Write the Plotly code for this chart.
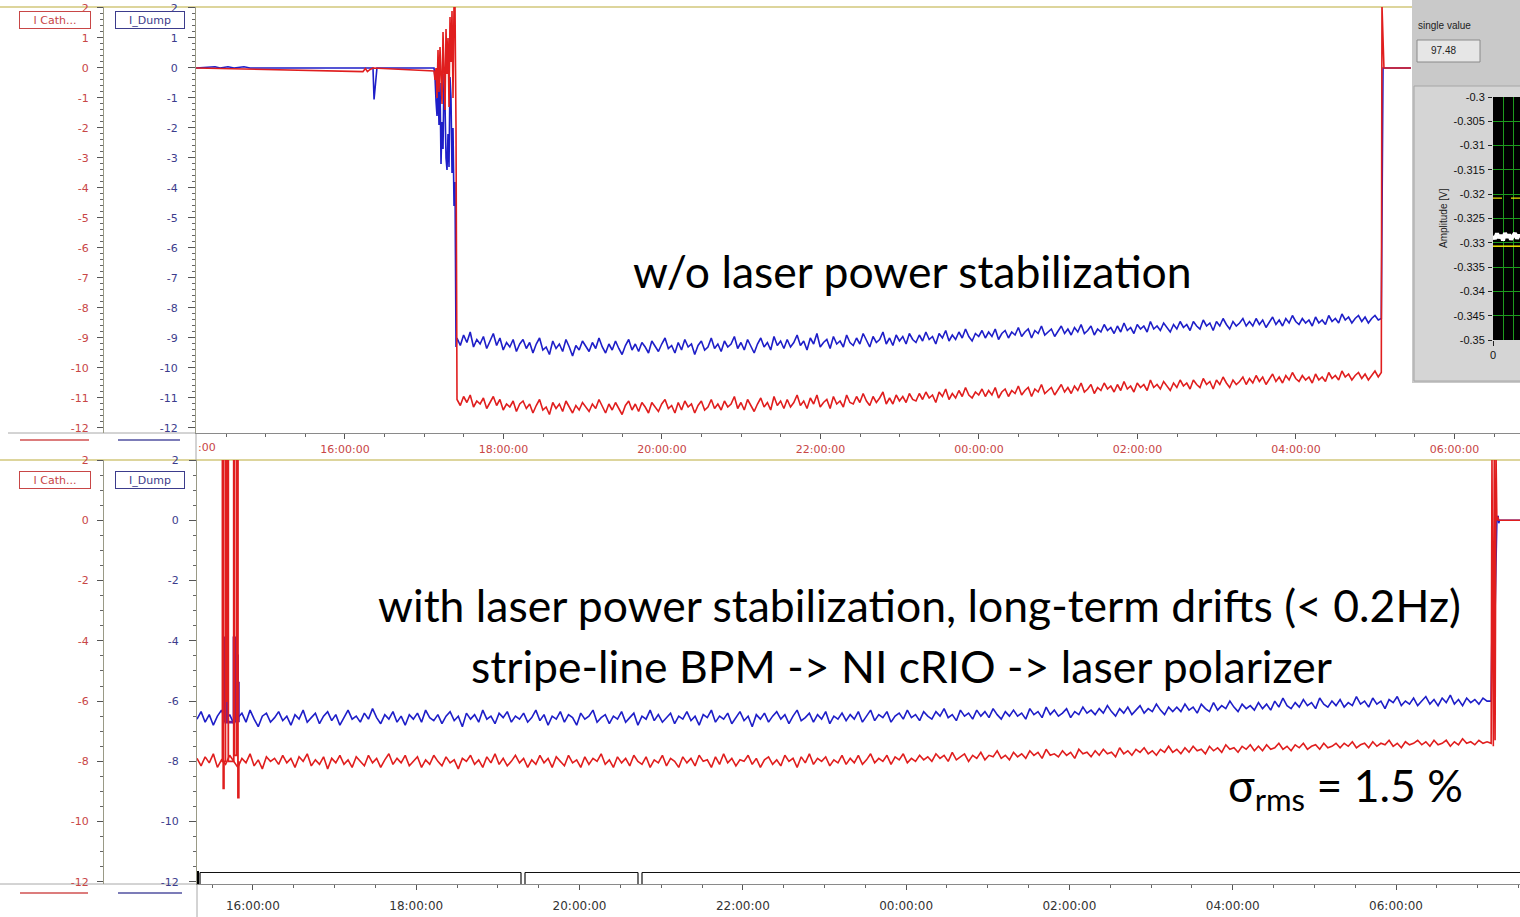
import plotly.graph_objects as go
import pandas as pd

W, H = 1520, 917
BASE = pd.Timestamp("2012-05-21 00:00:00")

# ---------------- DATA (times in minutes after midnight of day 1) ----------------
# Top panel: without laser power stabilization
top_pre_blue_t = [847.2, 861.6, 865.4, 871.4, 876.0, 883.5, 888.1, 981.2, 982.0, 983.5, 984.2]
top_pre_blue_v = [0.0, 0.04, 0.0, 0.04, 0.0, 0.04, 0.0, 0.0, -1.05, -0.2, 0.0]
top_pre_red_t = [847.2, 973.6, 975.5, 977.0, 979.0, 981.2]
top_pre_red_v = [0.0, -0.12, -0.02, -0.12, -0.05, 0.0]

top_chaos_t0 = 1027.4      # start of the unstable start-up phase
top_chaos_step = 0.757     # sampling step (minutes)
top_chaos_blue = [0.0, -0.3, -1.1, -1.6, -0.6, -1.9, -0.5, -3.2, -1.8, -2.7, -0.2, -1.2,
                  -3.0, -3.4, -2.2, -3.3, -0.3, -1.0, -3.5, -2.0, -4.6, -3.8, -9.3]
top_chaos_red = [-0.1, -0.4, 0.0, -1.0, 0.6, -0.8, 0.7, -0.3, -1.2, 1.2, -0.5, -1.4,
                 1.3, -0.2, 1.0, -1.3, 1.7, 0.2, 1.9, -1.0, 2.1, 2.1, -2.0]

top_noise_t0 = 1044.8
top_noise_step = 2.5
top_blue = [
    -9.0, -9.25, -8.9, -9.15, -8.8, -9.3, -9.05, -9.2, -8.95, -9.35, -9.1, -8.85, -9.25, -9.0, -9.4, -9.15, -9.3, -9.05, -9.45, -9.2,
    -9.05, -9.35, -9.15, -9.5, -9.2, -9.0, -9.4, -9.3, -9.55, -9.1, -9.35, -9.2, -9.45, -9.05, -9.3, -9.6, -9.25, -9.4, -9.1, -9.3,
    -9.45, -9.15, -9.35, -9.0, -9.3, -9.5, -9.2, -9.4, -9.1, -9.35, -9.55, -9.25, -9.05, -9.4, -9.2, -9.45, -9.15, -9.3, -9.5, -9.1,
    -9.3, -9.45, -9.2, -9.0, -9.35, -9.25, -9.5, -9.15, -9.4, -9.05, -9.3, -9.2, -9.55, -9.25, -9.1, -9.4, -9.3, -9.0, -9.35, -9.2,
    -9.45, -9.1, -9.3, -9.2, -8.95, -9.35, -9.15, -9.4, -9.05, -9.25, -9.5, -9.2, -9.0, -9.3, -9.15, -9.4, -8.95, -9.25, -9.1, -9.35,
    -9.05, -9.3, -9.15, -8.9, -9.25, -9.1, -9.4, -9.0, -9.2, -8.85, -9.3, -9.15, -9.05, -9.35, -8.95, -9.2, -9.1, -9.3, -8.9, -9.15,
    -9.25, -9.0, -9.2, -8.85, -9.1, -9.3, -8.95, -9.15, -9.05, -8.8, -9.2, -9.0, -9.25, -8.9, -9.1, -8.95, -9.2, -8.85, -9.05, -9.15,
    -8.9, -9.1, -8.8, -9.05, -8.95, -9.2, -8.85, -9.0, -8.75, -9.1, -8.9, -9.05, -8.8, -9.0, -8.7, -8.95, -9.1, -8.85, -8.95, -8.75,
    -9.0, -8.8, -8.95, -8.7, -9.05, -8.85, -8.75, -9.0, -8.8, -8.9, -8.65, -8.95, -8.8, -8.7, -9.0, -8.75, -8.85, -8.6, -8.9, -8.8,
    -8.7, -8.95, -8.75, -8.6, -8.85, -8.7, -8.9, -8.65, -8.8, -8.55, -8.85, -8.75, -8.6, -8.9, -8.7, -8.8, -8.55, -8.75, -8.65, -8.85,
    -8.6, -8.8, -8.5, -8.75, -8.65, -8.85, -8.55, -8.7, -8.6, -8.8, -8.45, -8.7, -8.6, -8.75, -8.5, -8.65, -8.8, -8.55, -8.7, -8.45,
    -8.65, -8.55, -8.75, -8.45, -8.6, -8.7, -8.4, -8.6, -8.5, -8.75, -8.45, -8.6, -8.35, -8.55, -8.7, -8.45, -8.6, -8.5, -8.35, -8.6,
    -8.45, -8.6, -8.35, -8.55, -8.4, -8.65, -8.45, -8.3, -8.55, -8.4, -8.6, -8.35, -8.5, -8.25, -8.45, -8.55, -8.35, -8.5, -8.4, -8.6,
    -8.3, -8.5, -8.4, -8.55, -8.25, -8.45, -8.35, -8.5, -8.2, -8.4, -8.3, -8.5, -8.35, -8.25, -8.45, -8.3, -8.5, -8.35, -8.25, -8.4]
top_red = [
    -11.05, -11.25, -10.95, -11.15, -10.9, -11.3, -11.1, -11.2, -11.0, -11.35, -11.15, -10.95, -11.25, -11.05, -11.4, -11.2, -11.3, -11.1, -11.45, -11.2,
    -11.1, -11.35, -11.2, -11.5, -11.25, -11.05, -11.4, -11.3, -11.55, -11.15, -11.35, -11.2, -11.45, -11.1, -11.3, -11.5, -11.25, -11.4, -11.15, -11.3,
    -11.45, -11.2, -11.35, -11.05, -11.3, -11.5, -11.2, -11.4, -11.15, -11.35, -11.55, -11.25, -11.1, -11.4, -11.2, -11.45, -11.15, -11.3, -11.5, -11.15,
    -11.3, -11.45, -11.2, -11.05, -11.35, -11.25, -11.5, -11.15, -11.4, -11.1, -11.3, -11.2, -11.5, -11.25, -11.1, -11.4, -11.3, -11.05, -11.35, -11.2,
    -11.4, -11.1, -11.3, -11.2, -10.95, -11.35, -11.15, -11.4, -11.05, -11.25, -11.45, -11.2, -11.0, -11.3, -11.15, -11.4, -10.95, -11.25, -11.1, -11.35,
    -11.05, -11.3, -11.15, -10.9, -11.25, -11.1, -11.35, -11.0, -11.2, -10.9, -11.3, -11.15, -11.05, -11.35, -10.95, -11.2, -11.1, -11.3, -10.9, -11.15,
    -11.2, -10.95, -11.15, -10.85, -11.1, -11.25, -10.95, -11.15, -11.0, -10.8, -11.2, -11.0, -11.2, -10.9, -11.1, -10.95, -11.15, -10.85, -11.05, -11.1,
    -10.85, -11.05, -10.8, -11.0, -10.9, -11.15, -10.8, -10.95, -10.7, -11.05, -10.85, -11.0, -10.75, -10.95, -10.65, -10.9, -11.0, -10.8, -10.9, -10.7,
    -10.95, -10.75, -10.9, -10.65, -11.0, -10.8, -10.7, -10.95, -10.75, -10.85, -10.6, -10.9, -10.75, -10.65, -10.95, -10.7, -10.8, -10.55, -10.85, -10.75,
    -10.65, -10.9, -10.7, -10.55, -10.8, -10.65, -10.85, -10.6, -10.75, -10.5, -10.8, -10.7, -10.55, -10.85, -10.65, -10.75, -10.5, -10.7, -10.6, -10.8,
    -10.55, -10.75, -10.45, -10.7, -10.6, -10.8, -10.5, -10.65, -10.55, -10.75, -10.4, -10.65, -10.55, -10.7, -10.45, -10.6, -10.75, -10.5, -10.65, -10.4,
    -10.6, -10.5, -10.7, -10.4, -10.55, -10.65, -10.35, -10.55, -10.45, -10.7, -10.4, -10.55, -10.3, -10.5, -10.65, -10.4, -10.55, -10.45, -10.3, -10.55,
    -10.35, -10.5, -10.25, -10.45, -10.3, -10.55, -10.35, -10.2, -10.45, -10.3, -10.5, -10.25, -10.4, -10.15, -10.35, -10.45, -10.25, -10.4, -10.3, -10.5,
    -10.2, -10.4, -10.3, -10.45, -10.15, -10.35, -10.25, -10.4, -10.1, -10.3, -10.2, -10.4, -10.25, -10.15, -10.35, -10.2, -10.4, -10.25, -10.1, -10.3]

top_end_blue_t = [1744.6, 1745.1, 1745.9, 1767.0]
top_end_blue_v = [-8.35, -4.2, 0.0, 0.0]
top_end_red_t = [1744.6, 1745.1, 1745.9, 1746.6, 1767.0]
top_end_red_v = [-10.15, 2.1, 1.0, 0.0, 0.0]

# Bottom panel: with laser power stabilization
bot_noise_t0 = 918.9
bot_noise_step = 3.0
bot_blue = [
    -6.6, -6.35, -6.7, -6.45, -6.8, -6.5, -6.3, -6.65, -6.45, -6.75, -6.55, -6.4, -6.7, -6.3, -6.6, -6.85, -6.5, -6.4, -6.7, -6.55,
    -6.35, -6.65, -6.5, -6.8, -6.45, -6.6, -6.3, -6.7, -6.55, -6.4, -6.75, -6.5, -6.35, -6.65, -6.45, -6.8, -6.55, -6.3, -6.6, -6.5,
    -6.7, -6.4, -6.6, -6.25, -6.55, -6.75, -6.45, -6.6, -6.35, -6.7, -6.5, -6.8, -6.45, -6.6, -6.4, -6.7, -6.3, -6.55, -6.65, -6.45,
    -6.75, -6.5, -6.35, -6.65, -6.5, -6.85, -6.4, -6.6, -6.45, -6.7, -6.3, -6.6, -6.5, -6.75, -6.4, -6.55, -6.35, -6.7, -6.5, -6.6,
    -6.4, -6.7, -6.55, -6.3, -6.65, -6.45, -6.8, -6.5, -6.6, -6.35, -6.7, -6.45, -6.55, -6.8, -6.4, -6.6, -6.5, -6.3, -6.7, -6.55,
    -6.45, -6.75, -6.5, -6.6, -6.35, -6.7, -6.55, -6.4, -6.8, -6.5, -6.6, -6.3, -6.65, -6.45, -6.7, -6.55, -6.4, -6.75, -6.5, -6.6,
    -6.35, -6.65, -6.5, -6.8, -6.45, -6.55, -6.3, -6.7, -6.5, -6.6, -6.4, -6.75, -6.55, -6.35, -6.65, -6.5, -6.85, -6.45, -6.6, -6.4,
    -6.7, -6.5, -6.35, -6.6, -6.45, -6.75, -6.5, -6.3, -6.65, -6.55, -6.4, -6.7, -6.45, -6.6, -6.35, -6.75, -6.5, -6.6, -6.4, -6.65,
    -6.45, -6.6, -6.35, -6.7, -6.5, -6.3, -6.65, -6.45, -6.55, -6.35, -6.7, -6.5, -6.4, -6.6, -6.3, -6.55, -6.45, -6.65, -6.35, -6.5,
    -6.6, -6.35, -6.5, -6.25, -6.55, -6.45, -6.65, -6.3, -6.5, -6.4, -6.6, -6.3, -6.5, -6.35, -6.55, -6.25, -6.45, -6.6, -6.35, -6.5,
    -6.3, -6.5, -6.4, -6.6, -6.25, -6.45, -6.35, -6.55, -6.2, -6.45, -6.3, -6.5, -6.4, -6.25, -6.55, -6.35, -6.45, -6.2, -6.4, -6.3,
    -6.45, -6.25, -6.4, -6.15, -6.35, -6.5, -6.25, -6.4, -6.2, -6.45, -6.3, -6.15, -6.4, -6.25, -6.35, -6.1, -6.3, -6.45, -6.2, -6.35,
    -6.2, -6.35, -6.1, -6.3, -6.2, -6.4, -6.1, -6.25, -6.35, -6.05, -6.3, -6.15, -6.25, -6.0, -6.2, -6.35, -6.1, -6.25, -6.15, -6.3,
    -6.05, -6.25, -6.1, -6.3, -6.0, -6.2, -5.9, -6.15, -6.25, -6.05, -6.2, -5.95, -6.15, -6.05, -6.25, -5.9, -6.1, -6.2, -6.0, -6.15,
    -5.95, -6.2, -6.05, -6.15, -5.85, -6.1, -6.0, -6.2, -5.9, -6.1, -6.0, -6.25, -5.95, -6.05, -5.85, -6.15, -6.0, -6.1, -5.9, -6.15,
    -6.0, -5.85, -6.1, -5.95, -6.15, -5.9, -6.05, -5.8, -6.1, -5.95, -6.15, -5.9, -6.05, -5.95, -6.1, -5.9, -6.0]
bot_red = [
    -7.9, -8.15, -7.85, -8.05, -7.75, -8.2, -7.95, -8.1, -7.8, -8.0, -8.2, -7.9, -8.05, -7.75, -8.15, -7.95, -8.25, -7.85, -8.0, -7.9,
    -8.1, -7.8, -8.05, -7.9, -8.2, -7.85, -8.0, -7.75, -8.15, -7.95, -8.1, -7.85, -8.25, -7.9, -8.05, -7.8, -8.1, -7.95, -8.2, -7.85,
    -8.0, -8.15, -7.8, -8.05, -7.9, -8.2, -7.95, -7.75, -8.1, -7.9, -8.05, -7.8, -8.15, -8.0, -7.85, -8.2, -7.95, -8.1, -7.8, -8.0,
    -8.15, -7.85, -8.05, -7.95, -8.25, -7.9, -8.0, -7.8, -8.1, -7.95, -8.2, -7.85, -8.05, -7.75, -8.1, -7.9, -8.15, -8.0, -7.8, -8.05,
    -7.9, -8.2, -7.95, -8.1, -7.8, -8.05, -7.9, -8.2, -7.85, -8.0, -8.15, -7.8, -8.05, -7.95, -8.2, -7.85, -8.1, -7.9, -8.0, -7.75,
    -8.1, -7.95, -8.2, -7.85, -8.05, -7.9, -8.15, -7.8, -8.0, -8.1, -7.85, -8.2, -7.95, -8.05, -7.8, -8.15, -7.9, -8.0, -8.2, -7.85,
    -8.05, -7.9, -8.15, -7.8, -8.0, -7.95, -8.2, -7.85, -8.1, -7.75, -8.05, -7.9, -8.15, -7.95, -8.0, -7.8, -8.1, -7.9, -8.2, -7.95,
    -7.85, -8.1, -7.95, -8.15, -7.8, -8.0, -7.9, -8.2, -7.85, -8.05, -7.75, -8.1, -7.9, -8.0, -7.85, -8.15, -7.95, -8.05, -7.8, -8.1,
    -7.9, -8.05, -7.8, -8.1, -7.95, -7.75, -8.05, -7.9, -8.0, -7.8, -8.1, -7.85, -7.95, -7.75, -8.05, -7.9, -8.0, -7.8, -7.95, -7.85,
    -8.0, -7.75, -7.9, -7.8, -8.0, -7.7, -7.95, -7.85, -7.75, -8.0, -7.8, -7.9, -7.7, -7.95, -7.8, -7.85, -7.65, -7.9, -7.8, -7.95,
    -7.7, -7.85, -7.75, -7.9, -7.65, -7.8, -7.7, -7.9, -7.6, -7.8, -7.75, -7.85, -7.65, -7.8, -7.7, -7.9, -7.6, -7.75, -7.7, -7.85,
    -7.65, -7.8, -7.6, -7.75, -7.7, -7.85, -7.55, -7.75, -7.65, -7.8, -7.6, -7.7, -7.55, -7.75, -7.65, -7.8, -7.6, -7.7, -7.5, -7.7,
    -7.6, -7.75, -7.55, -7.7, -7.5, -7.65, -7.6, -7.75, -7.5, -7.65, -7.55, -7.7, -7.45, -7.6, -7.55, -7.7, -7.5, -7.6, -7.45, -7.65,
    -7.5, -7.65, -7.45, -7.6, -7.55, -7.4, -7.6, -7.5, -7.65, -7.45, -7.55, -7.4, -7.6, -7.5, -7.45, -7.6, -7.4, -7.55, -7.5, -7.4,
    -7.55, -7.4, -7.5, -7.35, -7.55, -7.45, -7.4, -7.55, -7.35, -7.5, -7.4, -7.45, -7.3, -7.5, -7.4, -7.55, -7.35, -7.45, -7.4, -7.3,
    -7.45, -7.35, -7.5, -7.3, -7.45, -7.4, -7.3, -7.5, -7.35, -7.45, -7.25, -7.4, -7.35, -7.45, -7.3, -7.4, -7.35]

bot_spike_red_t = [937.0, 937.6, 938.2, 938.7, 939.8, 940.5, 941.3, 941.9, 945.9, 946.5, 948.2, 949.0, 949.6]
bot_spike_red_v = [-8.0, 2.2, -8.9, -8.0, 2.2, -6.0, 2.2, -8.0, 2.2, -7.8, 2.2, -9.2, -8.0]
bot_spike_blue_t = [939.0, 939.6, 941.0, 941.5, 945.5, 946.0, 946.8, 947.6, 948.8, 949.4]
bot_spike_blue_v = [-6.7, -3.9, -6.6, -6.7, -6.7, -3.9, -6.6, -4.5, -5.4, -6.7]

bot_end_red_t = [1869.9, 1870.5, 1871.5, 1872.2, 1872.8, 1873.5, 1874.1, 1874.8, 1875.3, 1891.1]
bot_end_red_v = [-7.4, 2.2, -7.5, 2.2, -7.3, 2.2, 0.0, 0.12, 0.0, 0.0]
bot_end_blue_t = [1869.9, 1871.0, 1871.6, 1872.2, 1872.8, 1873.4, 1874.1, 1875.0, 1875.5, 1876.0, 1891.1]
bot_end_blue_v = [-6.0, -1.5, -3.1, -1.5, -3.0, -1.6, 0.0, 0.15, -0.1, 0.0, 0.0]

# Tick labels
top_yticks = [2, 1, 0, -1, -2, -3, -4, -5, -6, -7, -8, -9, -10, -11, -12]
top_yticktext = ["2", "1", "0", "-1", "-2", "-3", "-4", "-5", "-6", "-7", "-8", "-9", "-10", "-11", "-12"]
bot_yticks = [2, 0, -2, -4, -6, -8, -10, -12]
bot_yticktext = ["2", "0", "-2", "-4", "-6", "-8", "-10", "-12"]

# Inset scope (Amplitude [V])
inset_x = [0.0, 0.2, 0.4, 0.6, 0.8, 1.0, 1.2, 1.4, 1.6, 1.8, 2.0, 2.2, 2.4, 2.6, 2.7]
inset_white = [-0.3286, -0.3292, -0.3281, -0.3290, -0.3284, -0.3295, -0.3280, -0.3289,
               -0.3283, -0.3293, -0.3286, -0.3280, -0.3291, -0.3284, -0.3288]
inset_yellow_solid = -0.3307
inset_yellow_dashed = -0.3208
inset_ticks = [-0.35, -0.345, -0.34, -0.335, -0.33, -0.325, -0.32, -0.315, -0.31, -0.305, -0.3]
inset_ticktext = ["-0.35", "-0.345", "-0.34", "-0.335", "-0.33", "-0.325", "-0.32", "-0.315",
                  "-0.31", "-0.305", "-0.3"]
single_value = "97.48"

# ---------------- helpers ----------------
def px(x):
    return x / W

def py(y):
    return 1 - y / H

def ts(mins):
    return [BASE + pd.Timedelta(minutes=float(m)) for m in mins]

def grid(t0, step, n):
    return [t0 + step * i for i in range(n)]

RED = "#e01e1e"
BLUE = "#1e1ec8"
RED_TXT = "#c84646"
BLUE_TXT = "#3c3c8c"
OLIVE = "#ddd59c"
AXC = "#9a9a86"

# assemble series
tb_t = top_pre_blue_t + grid(top_chaos_t0, top_chaos_step, len(top_chaos_blue)) + \
       grid(top_noise_t0, top_noise_step, len(top_blue)) + top_end_blue_t
tb_v = top_pre_blue_v + top_chaos_blue + top_blue + top_end_blue_v
tr_t = top_pre_red_t + grid(top_chaos_t0, top_chaos_step, len(top_chaos_red)) + \
       grid(top_noise_t0, top_noise_step, len(top_red)) + top_end_red_t
tr_v = top_pre_red_v + top_chaos_red + top_red + top_end_red_v

bb_t = grid(bot_noise_t0, bot_noise_step, len(bot_blue)) + bot_end_blue_t
bb_v = bot_blue + bot_end_blue_v
br_t = grid(bot_noise_t0, bot_noise_step, len(bot_red)) + bot_end_red_t
br_v = bot_red + bot_end_red_v

fig = go.Figure()
LW = 1.6
fig.add_trace(go.Scatter(x=ts(tb_t), y=tb_v, mode="lines", name="I_Dump",
                         line=dict(color=BLUE, width=LW), xaxis="x", yaxis="y"))
fig.add_trace(go.Scatter(x=ts(tr_t), y=tr_v, mode="lines", name="I Cath...",
                         line=dict(color=RED, width=LW), xaxis="x", yaxis="y2"))
fig.add_trace(go.Scatter(x=ts(bb_t), y=bb_v, mode="lines", name="I_Dump",
                         line=dict(color=BLUE, width=LW), xaxis="x2", yaxis="y3"))
fig.add_trace(go.Scatter(x=ts(bot_spike_blue_t), y=bot_spike_blue_v, mode="lines",
                         line=dict(color="#6a1e9a", width=2.6, shape="hv"), xaxis="x2", yaxis="y3"))
fig.add_trace(go.Scatter(x=ts(br_t), y=br_v, mode="lines", name="I Cath...",
                         line=dict(color=RED, width=LW), xaxis="x2", yaxis="y4"))
fig.add_trace(go.Scatter(x=ts(bot_spike_red_t), y=bot_spike_red_v, mode="lines",
                         line=dict(color=RED, width=1.8, shape="hv"), xaxis="x2", yaxis="y4"))
# inset traces
fig.add_trace(go.Scatter(x=[inset_x[0], inset_x[-1]], y=[inset_yellow_dashed] * 2, mode="lines",
                         line=dict(color="#e8e000", width=1.2, dash="dash"), xaxis="x3", yaxis="y5"))
fig.add_trace(go.Scatter(x=[inset_x[0], inset_x[-1]], y=[inset_yellow_solid] * 2, mode="lines",
                         line=dict(color="#f0e800", width=1.5), xaxis="x3", yaxis="y5"))
fig.add_trace(go.Scatter(x=inset_x, y=inset_white, mode="lines",
                         line=dict(color="white", width=4), xaxis="x3", yaxis="y5"))

top_rng = [-12.167, 2.033]
bot_rng = [-12.07, 2.0]
top_dom = [py(433), py(7)]
bot_dom = [py(884), py(460)]

def yax(color, vals, texts, mdtick, rng, standoff, **kw):
    d = dict(range=rng, tickmode="array", tickvals=vals, ticktext=texts, ticks="outside",
             ticklen=6, tickcolor="#555", tickwidth=1, showline=True, linecolor=AXC, linewidth=1,
             showgrid=False, zeroline=False, ticklabelstandoff=standoff, automargin=False,
             tickfont=dict(family="DejaVu Sans", size=11, color=color),
             minor=dict(tickmode="linear", tick0=0, dtick=mdtick, ticks="outside", ticklen=3,
                        tickcolor="#666", showgrid=False),
             fixedrange=True)
    d.update(kw)
    return d

def xax(dom, rng, anchor, color, size, standoff):
    return dict(domain=dom, range=rng, type="date", anchor=anchor, tickformat="%H:%M:%S",
                tickmode="linear", tick0=str(BASE), dtick=7200000, ticks="outside", ticklen=5,
                tickcolor="#555", showline=True, linecolor="#8a8a8a", linewidth=1, showgrid=False,
                zeroline=False, ticklabelstandoff=standoff, automargin=False,
                tickfont=dict(family="DejaVu Sans", size=size, color=color),
                minor=dict(tickmode="linear", tick0=str(BASE), dtick=1800000, ticks="outside",
                           ticklen=3, tickcolor="#666", showgrid=False),
                fixedrange=True)

top_xr = ts([847.2, 1849.6])
bot_xr = ts([918.9, 1891.1])

fig.update_layout(
    template="none",
    width=W, height=H, margin=dict(l=0, r=0, t=0, b=0, pad=0), autosize=False,
    paper_bgcolor="white", plot_bgcolor="rgba(0,0,0,0)", showlegend=False,
    xaxis=xax([px(196), 1], top_xr, "y", RED_TXT, 11, 1),
    xaxis2=xax([px(197), 1], bot_xr, "y3", "#333333", 12, 6),
    xaxis3=dict(domain=[px(1493), 1], range=[0, 2.7], anchor="y5", tickmode="array",
                tickvals=[0], ticktext=["0"], ticks="outside", ticklen=5, tickcolor="#222",
                showgrid=True, gridcolor="#1e9a1e", zeroline=False, showline=False,
                automargin=False,
                tickfont=dict(family="Liberation Sans", size=11, color="#111"),
                minor=dict(tickmode="linear", tick0=0, dtick=1, showgrid=True,
                           gridcolor="#1e9a1e", gridwidth=1),
                fixedrange=True),
    yaxis=yax(BLUE_TXT, top_yticks, top_yticktext, 0.2, top_rng, 8, domain=top_dom,
              anchor="x", ticklen=7),
    yaxis2=yax(RED_TXT, top_yticks, top_yticktext, 0.2, top_rng, 6, overlaying="y",
               anchor="free", position=px(103)),
    yaxis3=yax(BLUE_TXT, bot_yticks, bot_yticktext, 0.5, bot_rng, 8, domain=bot_dom,
               anchor="x2", ticklen=7),
    yaxis4=yax(RED_TXT, bot_yticks, bot_yticktext, 0.5, bot_rng, 6, overlaying="y3",
               anchor="free", position=px(103)),
    yaxis5=dict(domain=[py(340), py(97)], range=[-0.35, -0.3], anchor="x3", tickmode="array",
                tickvals=inset_ticks, ticktext=inset_ticktext, ticks="outside", ticklen=4,
                tickcolor="#222", showgrid=True, gridcolor="#1e9a1e", zeroline=False,
                showline=False, ticklabelstandoff=1, automargin=False,
                tickfont=dict(family="Liberation Sans", size=11, color="#111"), fixedrange=True),
)

shapes = []
def line(x0, y0, x1, y1, color, width=1, layer="below"):
    shapes.append(dict(type="line", xref="paper", yref="paper", x0=px(x0), y0=py(y0),
                       x1=px(x1), y1=py(y1), line=dict(color=color, width=width), layer=layer))

def rect(x0, y0, x1, y1, fill, lc=None, lw=0, layer="below"):
    shapes.append(dict(type="rect", xref="paper", yref="paper", x0=px(x0), y0=py(y0),
                       x1=px(x1), y1=py(y1), fillcolor=fill,
                       line=dict(color=lc or fill, width=lw), layer=layer))

# LabVIEW side panel (top right)
rect(1412, 0, 1521, 383, "#c9c9c9")
rect(1414, 86, 1522, 381, "#d5d5d5", "#a6a6a6", 1)
rect(1417, 40, 1480, 62, "#e6e6e6", "#8a8a8a", 1)
rect(1493, 97, 1521, 340, "black")

# frame lines
line(0, 7, 1412, 7, OLIVE, 2)
line(0, 460, 1520, 460, OLIVE, 2)
line(8, 433, 196, 433, "#a8a8a8", 1)
line(0, 884, 197, 884, "#a8a8a8", 1)
line(196, 433, 196, 460, "#a8a8a8", 1)
line(197, 884, 197, 917, "#a8a8a8", 1)
# legend line samples
line(20, 440, 89, 440, "#d05050", 1.5)
line(118, 440, 180, 440, "#5050a0", 1.5)
line(20, 893, 88, 893, "#d05050", 1.5)
line(118, 893, 182, 893, "#5050a0", 1.5)
# scroll bar under the lower chart
line(197.5, 871, 197.5, 884, "black", 3)
for a, b in [(200, 521), (525, 638), (642, 1521)]:
    line(a, 872.5, b, 872.5, "#111", 1.2)
    line(a, 872.5, a, 884, "#111", 1.2)
    line(b, 872.5, b, 884, "#111", 1.2)

annotations = []
def text(x, y, s, size, color="black", family="Lato", xanchor="center", **kw):
    d = dict(xref="paper", yref="paper", x=px(x), y=py(y), text=s, showarrow=False,
             xanchor=xanchor, yanchor="middle", font=dict(family=family, size=size, color=color))
    d.update(kw)
    annotations.append(d)

# legend boxes
for yy in (20, 480):
    text(55, yy, "I Cath...", 11, RED_TXT, "DejaVu Sans", bordercolor="#c84646", borderwidth=1,
         borderpad=1, bgcolor="white", width=68, height=14)
    text(150, yy, "I_Dump", 11, BLUE_TXT, "DejaVu Sans", bordercolor="#3c3c8c", borderwidth=1,
         borderpad=1, bgcolor="white", width=66, height=14)
text(207, 448, ":00", 11, RED_TXT, "DejaVu Sans")

# side panel texts
text(1416, 26, "single value", 10, "#222", "Liberation Sans", xanchor="left")
text(1429, 51, single_value, 10, "#222", "Liberation Sans", xanchor="left")
text(1443, 218, "Amplitude [V]", 10, "#222", "Liberation Sans", textangle=-90)

# main labels
BIG = 44.5
text(913, 271, "w/o laser power stabilization", BIG)
text(919, 604, "with laser power stabilization, long-term drifts (< 0.2Hz)", BIG)
text(901, 665, "stripe-line BPM -> NI cRIO -> laser polarizer", BIG)
text(1345, 788, "σ<sub>rms</sub> = 1.5 %", BIG)

fig.update_layout(shapes=shapes, annotations=annotations)
fig.write_html("out.html", config={"displayModeBar": False},
               post_script="document.body.style.margin='0';document.body.style.overflow='hidden';")
